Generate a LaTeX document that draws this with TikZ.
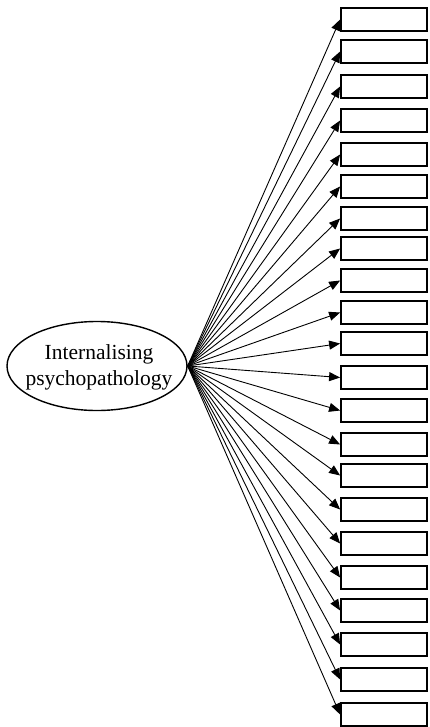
\documentclass[tikz,border=0pt]{standalone}
\usepackage{fontspec}
\setmainfont{Liberation Serif}
\usetikzlibrary{shapes.geometric,arrows.meta}
\begin{document}
\begin{tikzpicture}[x=1pt,y=-1pt,
  itembox/.style={draw,line width=1.8pt,minimum width=86pt,minimum height=23pt,inner sep=0pt},
  factor/.style={draw,ellipse,line width=1.4pt,minimum width=180pt,minimum height=89pt,inner sep=0pt},
  load/.style={line width=0.9pt,-{Triangle[length=11pt,width=9pt]}}]
\useasboundingbox (0,0) rectangle (429,727);
\node[factor] (e) at (97,366) {};
\node[align=center,font=\fontsize{21.5}{26}\selectfont,inner sep=0pt] (lbl) at (99,367) {Internalising\\psychopathology};
\foreach \t [count=\i] in {8,40,75,109,143,175,207,237,269,301,332,366,399,433,464,498,532,566,599,633,668,703}{
  \node[itembox] (b\i) at (384,\t+11.5) {};
  \draw[load] (e.east) -- (b\i.west);
}
\end{tikzpicture}
\end{document}
